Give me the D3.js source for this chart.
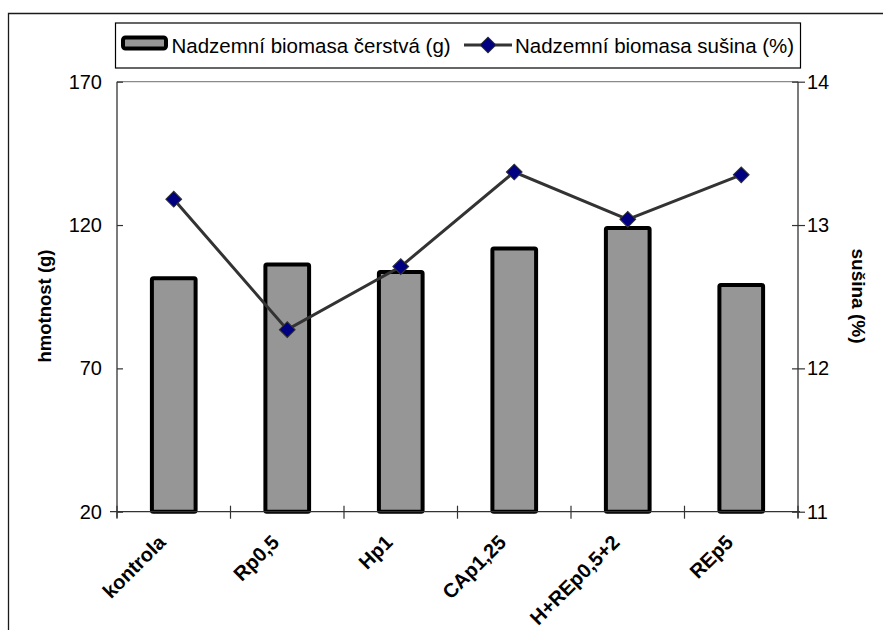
<!DOCTYPE html>
<html>
<head>
<meta charset="utf-8">
<script src="https://cdn.jsdelivr.net/npm/d3@7"></script>
<style>
  html, body { margin: 0; padding: 0; background: #fff; }
  svg { display: block; font-family: "Liberation Sans", Arial, sans-serif; }
</style>
</head>
<body>
<svg id="chart" width="883" height="630"></svg>
<script>
// Variants of the experiment (x categories)
const categories = ["kontrola", "Rp0,5", "Hp1", "CAp1,25", "H+REp0,5+2", "REp5"];
// Above-ground fresh biomass (g) – bars, left axis
const freshMass = [101.4, 106.2, 103.6, 111.8, 119.0, 99.1];
// Above-ground dry matter (%) – line, right axis
const dryMatter = [13.18, 12.27, 12.71, 13.37, 13.04, 13.35];
// Axis ticks
const leftTicks = [20, 70, 120, 170];
const rightTicks = [11, 12, 13, 14];
const legendLabels = ["Nadzemní biomasa čerstvá (g)", "Nadzemní biomasa sušina (%)"];

const svg = d3.select("#chart");

const plot = { left: 117, right: 798, top: 81.7, bottom: 511.7 };

const x = d3.scaleBand()
  .domain(categories)
  .range([plot.left, plot.right])
  .paddingInner(0.615)
  .paddingOuter(0.3075);
const step = x.step();
const cx = d => x(d) + x.bandwidth() / 2;

const yL = d3.scaleLinear().domain([20, 170]).range([plot.bottom, plot.top]);
const yR = d3.scaleLinear().domain([11, 14]).range([plot.bottom, plot.top]);

// outer chart frame
svg.append("path")
  .attr("d", "M8.5,640 V13.5 H900")
  .attr("fill", "none")
  .attr("stroke", "#1a1a1a")
  .attr("stroke-width", 1.3);

// plot area top edge
svg.append("line")
  .attr("x1", plot.left).attr("x2", plot.right)
  .attr("y1", plot.top).attr("y2", plot.top)
  .attr("stroke", "#8a8a8a").attr("stroke-width", 1.2);

// bars
svg.append("g").selectAll("rect")
  .data(categories)
  .join("rect")
  .attr("x", d => x(d))
  .attr("width", x.bandwidth())
  .attr("y", (d, i) => yL(freshMass[i]))
  .attr("height", (d, i) => yL(20) - yL(freshMass[i]))
  .attr("rx", 1.5)
  .attr("fill", "#969696")
  .attr("stroke", "#000")
  .attr("stroke-width", 4);

// axes
const axisColor = "#333";
function styleAxis(g) {
  g.select(".domain").remove();
  g.selectAll(".tick line").attr("stroke", axisColor).attr("stroke-width", 1.2);
  g.selectAll(".tick text")
    .attr("fill", "#000")
    .style("font-size", "20px")
    .style("font-family", "'Liberation Sans', Arial, sans-serif");
}

// left axis
const gL = svg.append("g").attr("transform", `translate(${plot.left},0)`)
  .call(d3.axisLeft(yL).tickValues(leftTicks).tickSize(7).tickPadding(8).tickFormat(d3.format("d")));
styleAxis(gL);
gL.selectAll(".tick line").attr("x2", 6);
gL.append("line").attr("y1", plot.top).attr("y2", plot.bottom + 6)
  .attr("stroke", axisColor).attr("stroke-width", 1.3);

// right axis
const gR = svg.append("g").attr("transform", `translate(${plot.right},0)`)
  .call(d3.axisRight(yR).tickValues(rightTicks).tickSize(7).tickPadding(2).tickFormat(d3.format("d")));
styleAxis(gR);
gR.selectAll(".tick line").attr("x2", 7).attr("x1", -6);
gR.append("line").attr("y1", plot.top).attr("y2", plot.bottom + 6)
  .attr("stroke", axisColor).attr("stroke-width", 1.3);

// bottom axis with ticks between categories
const boundaries = d3.range(categories.length + 1).map(i => plot.left + i * step);
const gB = svg.append("g");
gB.append("line")
  .attr("x1", plot.left - 7).attr("x2", plot.right + 2)
  .attr("y1", plot.bottom).attr("y2", plot.bottom)
  .attr("stroke", axisColor).attr("stroke-width", 1.3);
gB.selectAll("line.tk").data(boundaries).join("line")
  .attr("class", "tk")
  .attr("x1", d => d).attr("x2", d => d)
  .attr("y1", plot.bottom - 6).attr("y2", plot.bottom + 7)
  .attr("stroke", axisColor).attr("stroke-width", 1.2);

// category labels, rotated
gB.selectAll("text").data(categories).join("text")
  .attr("transform", d => `translate(${cx(d) - 7},${plot.bottom + 32}) rotate(-45)`)
  .attr("text-anchor", "end")
  .style("font-size", "20px")
  .style("font-weight", "bold")
  .text(d => d);

// axis titles
svg.append("text")
  .attr("transform", `translate(51,306) rotate(-90)`)
  .attr("text-anchor", "middle")
  .style("font-size", "18.5px")
  .style("font-weight", "bold")
  .text("hmotnost (g)");

svg.append("text")
  .attr("transform", `translate(852,296) rotate(90)`)
  .attr("text-anchor", "middle")
  .style("font-size", "19px")
  .style("font-weight", "bold")
  .text("sušina (%)");

// dry matter line
const line = d3.line()
  .x((d, i) => cx(categories[i]))
  .y(d => yR(d));
svg.append("path")
  .datum(dryMatter)
  .attr("d", line)
  .attr("fill", "none")
  .attr("stroke", "#333")
  .attr("stroke-width", 3);

const diamond = d3.symbol(d3.symbolSquare, 125);
svg.append("g").selectAll("path")
  .data(dryMatter)
  .join("path")
  .attr("transform", (d, i) => `translate(${cx(categories[i])},${yR(d)}) rotate(45)`)
  .attr("d", diamond)
  .attr("fill", "#000080")
  .attr("stroke", "#333")
  .attr("stroke-width", 1);

// legend
const lg = svg.append("g");
lg.append("rect")
  .attr("x", 115.5).attr("y", 23).attr("width", 685).attr("height", 45)
  .attr("fill", "#fff").attr("stroke", "#000").attr("stroke-width", 1.2);
lg.append("rect")
  .attr("x", 123).attr("y", 37.5).attr("width", 43).attr("height", 11)
  .attr("rx", 2.5)
  .attr("fill", "#969696").attr("stroke", "#000").attr("stroke-width", 4);
lg.append("text")
  .attr("x", 171.5).attr("y", 52.5)
  .style("font-size", "20.5px")
  .text(legendLabels[0]);
lg.append("line")
  .attr("x1", 464).attr("x2", 512).attr("y1", 45).attr("y2", 45)
  .attr("stroke", "#333").attr("stroke-width", 3);
lg.append("path")
  .attr("transform", "translate(488,45) rotate(45)")
  .attr("d", diamond)
  .attr("fill", "#000080").attr("stroke", "#333").attr("stroke-width", 1);
lg.append("text")
  .attr("x", 515).attr("y", 52.5)
  .style("font-size", "20.5px")
  .text(legendLabels[1]);
</script>
</body>
</html>
